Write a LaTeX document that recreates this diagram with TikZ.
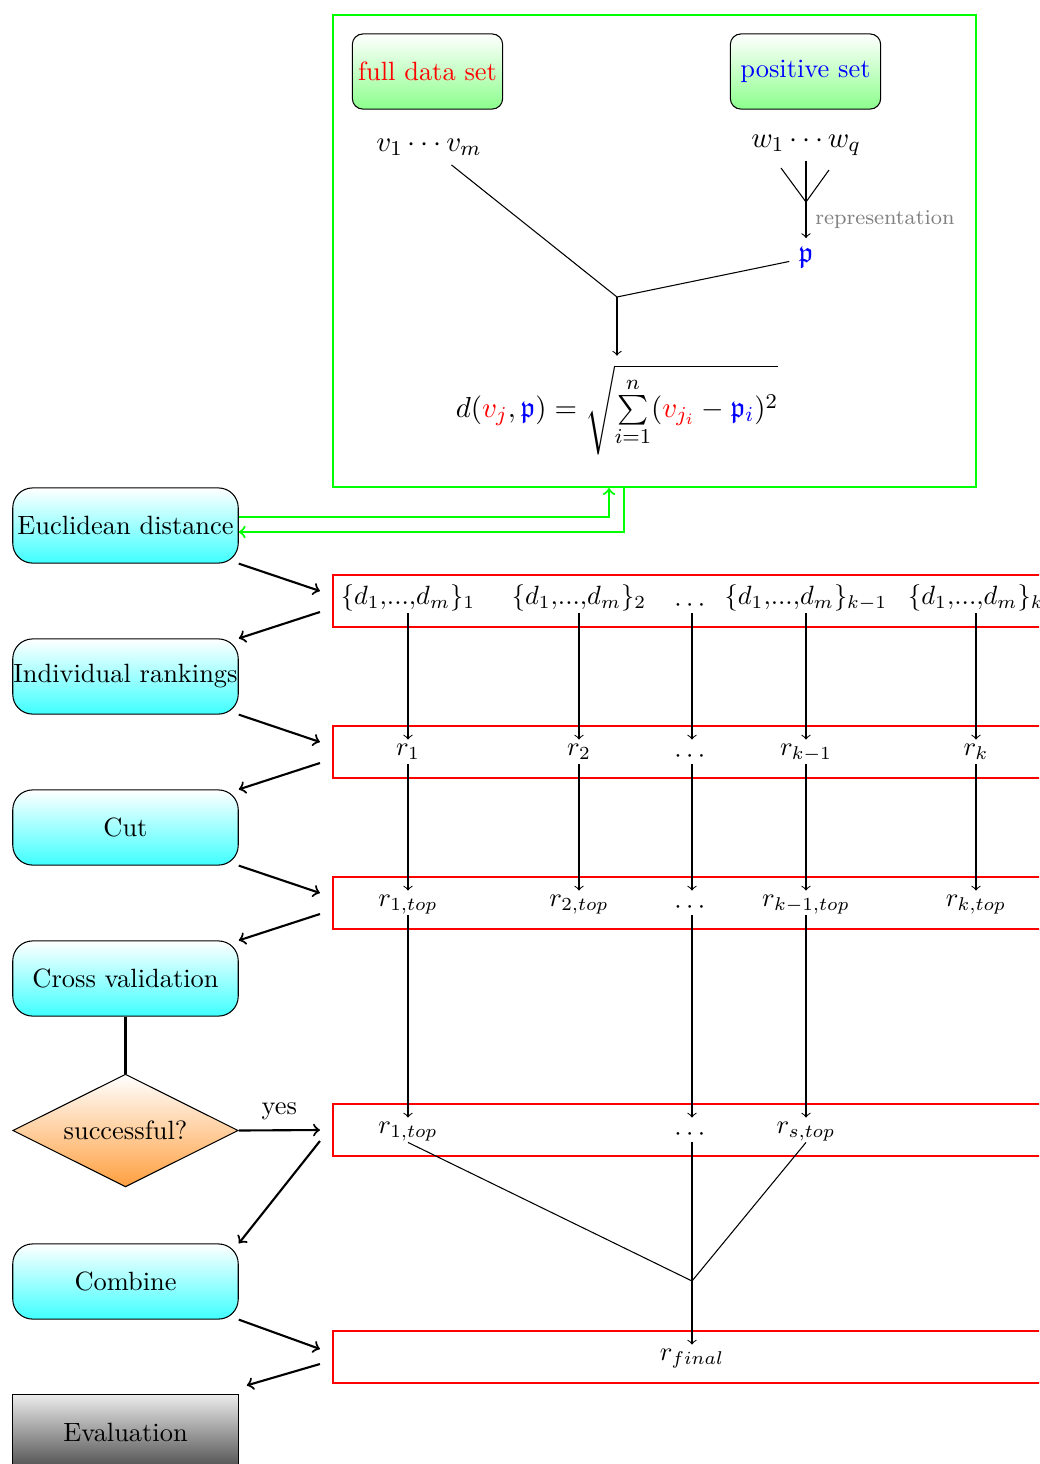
\documentclass[tikz,border=0pt]{standalone}
\usepackage{amsmath,amssymb}
\usetikzlibrary{shapes.geometric,fit}

% dots placed at the middle of a result cell
\newcommand{\rowdots}{\raisebox{-2.5pt}{$\cdots$}}

\tikzset{
  stepbox/.style={rectangle, rounded corners=7.5pt, draw=black, minimum width=3cm,
    minimum height=1cm, inner xsep=0pt, top color=white, bottom color=cyan!75},
  setbox/.style={rectangle, rounded corners, draw=black, minimum width=2cm,
    minimum height=1cm, inner xsep=1pt, top color=white, bottom color=green!45},
  decision/.style={diamond, aspect=2, draw=black, minimum width=3cm,
    minimum height=1.5cm, inner sep=0pt, top color=white, bottom color=orange!75},
  finalbox/.style={rectangle, draw=black, minimum width=3cm, minimum height=1cm,
    top color=black!8, bottom color=black!70},
  rowbox/.style={draw=red, thick, inner sep=0pt},
  groupbox/.style={draw=green, thick, inner sep=0pt},
  cell/.style={inner sep=1pt, text height=5pt, text depth=2pt},
  bigmath/.style={font=\fontsize{11.2}{13.5}\selectfont},
  flow/.style={->, thick},
  feed/.style={->, thick, green},
  link/.style={->},
}

\begin{document}
\begin{tikzpicture}[x=0.013310cm, y=-0.013310cm]
\useasboundingbox (0,0) rectangle (1039,1464);
\clip (0,0) rectangle (1039,1464);

% ---------- distance computation group ----------
\coordinate (gtl) at (333,15);
\coordinate (gbr) at (976,487);
\node[groupbox, fit=(gtl)(gbr)] (group) {};

\node[setbox, text=red]  (full) at (427.5,71.5) {full data set};
\node[setbox, text=blue] (pos)  at (805.5,71.5) {positive set};

\node[bigmath] (vs) at (429,147) {$v_1 \cdots v_m$};
\node[bigmath] (ws) at (806,145) {$w_1 \cdots w_q$};
\node[bigmath, text=blue] (p) at (806,258) {$\mathfrak{p}$};
\coordinate (fan)  at (806,202);
\coordinate (join) at (617,297);
\node[bigmath] (dist) at (617,410)
  {$d(\textcolor{red}{v_j},\textcolor{blue}{\mathfrak{p}}) =
    \sqrt{\sum\limits_{i=1}^{n} (\textcolor{red}{v_{j_i}} - \textcolor{blue}{\mathfrak{p}_i})^2}$};

\draw ([shift={(-25,3)}]ws.south) -- (fan);
\draw ([shift={(0,-4)}]ws.south) -- (fan);
\draw ([shift={(23,5)}]ws.south) -- (fan);
\draw[link] (fan) -- node[right, text=gray, font=\footnotesize] {representation} (p);
\draw (vs) -- (join);
\draw (p) -- (join);
\draw[link] (join) -- (dist);

% ---------- process steps ----------
\node[stepbox] (E)    at (125.5,525.5)  {Euclidean distance};
\node[stepbox] (IR)   at (125.5,676.5)  {Individual rankings};
\node[stepbox] (Cut)  at (125.5,827.5)  {Cut};
\node[stepbox] (CV)   at (125.5,978.5)  {Cross validation};
\node[decision] (dec) at (125.5,1130.5) {successful?};
\node[stepbox] (Comb) at (125.5,1281.5) {Combine};
\node[finalbox] (Eval) at (125.5,1432.5) {Evaluation};

\draw[feed] ([shift={(0,-8.5)}]E.east) -| ([shift={(-45.5,0)}]group.south);
\draw[feed] ([shift={(-30.5,0)}]group.south) |- ([shift={(0,6.5)}]E.east);

% ---------- result rows ----------
\coordinate (r1a) at (333,575);  \coordinate (r1b) at (1120,627);
\coordinate (r2a) at (333,726);  \coordinate (r2b) at (1120,778);
\coordinate (r3a) at (333,877);  \coordinate (r3b) at (1120,929);
\coordinate (r4a) at (333,1104); \coordinate (r4b) at (1120,1156);
\coordinate (r5a) at (333,1331); \coordinate (r5b) at (1120,1383);
\node[rowbox, fit=(r1a)(r1b)] (R1) {};
\node[rowbox, fit=(r2a)(r2b)] (R2) {};
\node[rowbox, fit=(r3a)(r3b)] (R3) {};
\node[rowbox, fit=(r4a)(r4b)] (R4) {};
\node[rowbox, fit=(r5a)(r5b)] (R5) {};

\node[cell] (d1) at (408,601) {$\{d_1{,}...{,}d_m\}_1$};
\node[cell] (d2) at (579,601) {$\{d_1{,}...{,}d_m\}_2$};
\node[cell] (d3) at (692,601) {\rowdots};
\node[cell] (d4) at (806,601) {$\{d_1{,}...{,}d_m\}_{k-1}$};
\node[cell] (d5) at (976,601) {$\{d_1{,}...{,}d_m\}_k$};

\node[cell] (a1) at (408,752) {$r_1$};
\node[cell] (a2) at (579,752) {$r_2$};
\node[cell] (a3) at (692,752) {\rowdots};
\node[cell] (a4) at (806,752) {$r_{k-1}$};
\node[cell] (a5) at (976,752) {$r_k$};

\node[cell] (t1) at (408,903) {$r_{1,top}$};
\node[cell] (t2) at (579,903) {$r_{2,top}$};
\node[cell] (t3) at (692,903) {\rowdots};
\node[cell] (t4) at (806,903) {$r_{k-1,top}$};
\node[cell] (t5) at (976,903) {$r_{k,top}$};

\node[cell] (s1) at (408,1130) {$r_{1,top}$};
\node[cell] (s3) at (692,1130) {\rowdots};
\node[cell] (s4) at (806,1130) {$r_{s,top}$};

\node[cell] (fin) at (692,1357) {$r_{final}$};
\coordinate (merge) at (692,1281);

\foreach \i in {1,...,5} {
  \draw[link] (d\i.south) -- (a\i.north);
  \draw[link] (a\i.south) -- (t\i.north);
}
\foreach \i in {1,3,4} {
  \draw[link] (t\i.south) -- (s\i.north);
}
\draw (s1.south) -- (merge);
\draw (s4.south) -- (merge);
\draw[link] (s3.south) -- (fin.north);

% ---------- step <-> row arrows ----------
\draw[flow] (E.south east) -- ([shift={(-12,-10)}]R1.west);
\draw[flow] ([shift={(-12,11)}]R1.west) -- (IR.north east);
\draw[flow] (IR.south east) -- ([shift={(-12,-10)}]R2.west);
\draw[flow] ([shift={(-12,11)}]R2.west) -- (Cut.north east);
\draw[flow] (Cut.south east) -- ([shift={(-12,-10)}]R3.west);
\draw[flow] ([shift={(-12,11)}]R3.west) -- (CV.north east);
\draw[thick] (CV.south) -- (dec.north);
\draw[flow] (dec.east) -- node[above] {yes} ([shift={(-12,0)}]R4.west);
\draw[flow] ([shift={(-12,11)}]R4.west) -- (Comb.north east);
\draw[flow] (Comb.south east) -- ([shift={(-12,-8)}]R5.west);
\draw[flow] ([shift={(-12,7)}]R5.west) -- ([shift={(8,-9)}]Eval.north east);
\end{tikzpicture}
\end{document}
